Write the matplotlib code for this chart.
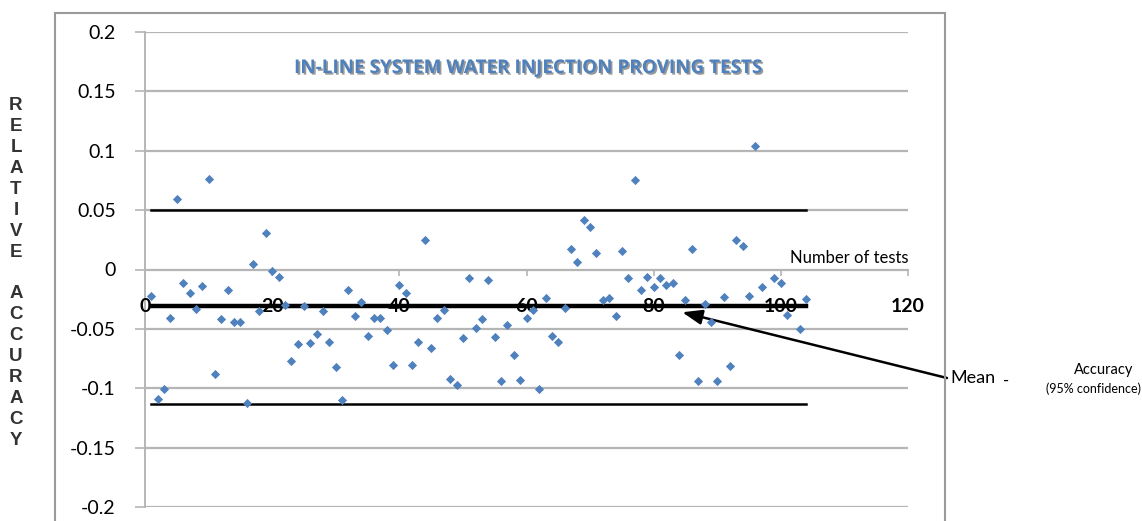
import matplotlib
matplotlib.use("Agg")
import matplotlib.pyplot as plt
import matplotlib.patheffects as pe
import matplotlib.transforms as mtransforms
from matplotlib.patches import Rectangle

# ---- data ----
test_no = [1, 2, 3, 4, 5, 6, 7, 8, 9, 10, 11, 12, 13, 14, 15, 16, 17, 18, 19, 20,
           21, 22, 23, 24, 25, 26, 27, 28, 29, 30, 31, 32, 33, 34, 35, 36, 37, 38, 39, 40,
           41, 42, 43, 44, 45, 46, 47, 48, 49, 50, 51, 52, 53, 54, 55, 56, 57, 58, 59, 60,
           61, 62, 63, 64, 65, 66, 67, 68, 69, 70, 71, 72, 73, 74, 75, 76, 77, 78, 79, 80,
           81, 82, 83, 84, 85, 86, 87, 88, 89, 90, 91, 92, 93, 94, 95, 96, 97, 99, 100,
           101, 103, 104]
rel_acc = [-0.022, -0.109, -0.101, -0.041, 0.059, -0.011, -0.020, -0.033, -0.014, 0.076,
           -0.088, -0.042, -0.017, -0.044, -0.044, -0.112, 0.005, -0.035, 0.031, -0.001,
           -0.006, -0.030, -0.077, -0.063, -0.031, -0.062, -0.054, -0.035, -0.061, -0.082,
           -0.110, -0.017, -0.039, -0.027, -0.056, -0.041, -0.041, -0.051, -0.080, -0.013,
           -0.020, -0.080, -0.061, 0.025, -0.066, -0.041, -0.034, -0.092, -0.097, -0.058,
           -0.007, -0.049, -0.042, -0.009, -0.057, -0.094, -0.047, -0.072, -0.093, -0.041,
           -0.034, -0.101, -0.024, -0.056, -0.061, -0.032, 0.017, 0.006, 0.042, 0.036,
           0.014, -0.026, -0.024, -0.039, 0.016, -0.007, 0.075, -0.017, -0.006, -0.015,
           -0.007, -0.013, -0.011, -0.072, -0.026, 0.017, -0.094, -0.029, -0.044, -0.094,
           -0.023, -0.081, 0.025, 0.020, -0.022, 0.104, -0.015, -0.007, -0.011,
           -0.038, -0.050, -0.025]
mean_val = -0.031
upper_val = 0.05
lower_val = -0.113
line_span = [1, 104]
x_ticks = [0, 20, 40, 60, 80, 100, 120]
y_ticks = [0.2, 0.15, 0.1, 0.05, 0, -0.05, -0.1, -0.15, -0.2]
y_tick_labels = ["0.2", "0.15", "0.1", "0.05", "0", "-0.05", "-0.1", "-0.15", "-0.2"]
title = "IN-LINE SYSTEM WATER INJECTION PROVING TESTS"
ylabel_words = ["RELATIVE", "ACCURACY"]

W, H = 1142, 521
fig = plt.figure(figsize=(W / 100, H / 100), dpi=100)
ax = fig.add_axes([145 / W, (H - 507) / H, 763 / W, 475 / H])
ax.set_xlim(0, 120)
ax.set_ylim(-0.2, 0.2)

grid_c = "#b5b5b5"
for yv in y_ticks:
    ax.axhline(yv, color=grid_c, lw=1.6, zorder=1)

for s in ["top", "right"]:
    ax.spines[s].set_visible(False)
ax.spines["left"].set_color(grid_c)
ax.spines["left"].set_linewidth(1.4)
ax.spines["bottom"].set_position(("data", 0))
ax.spines["bottom"].set_color(grid_c)
ax.spines["bottom"].set_linewidth(1.4)

ax.set_yticks(y_ticks)
ax.set_yticklabels(y_tick_labels, fontsize=14, family=["Lato", "DejaVu Sans"])
ax.tick_params(axis="y", length=7, width=1.2, color=grid_c, pad=14)
ax.set_xticks(x_ticks)
ax.set_xticklabels([])
ax.tick_params(axis="x", length=4, width=1.2, color=grid_c, direction="out")

# reference lines
ax.plot(line_span, [upper_val, upper_val], color="black", lw=1.8, zorder=2)
ax.plot(line_span, [lower_val, lower_val], color="black", lw=1.8, zorder=2)
ax.plot(line_span, [mean_val, mean_val], color="black", lw=3.2, zorder=2)

# x tick labels placed at mean line level
for xv in x_ticks:
    ax.text(xv, mean_val, str(xv), ha="center", va="center", fontsize=14,
            fontweight="bold", family=["Lato", "DejaVu Sans"], color="black",
            zorder=3, clip_on=False)

ax.scatter(test_no, rel_acc, marker="D", s=22, color="#4F81BD", zorder=4,
           linewidths=0)

blend = mtransforms.blended_transform_factory(ax.transAxes, ax.transData)
ax.text(1.0, 0.003, "Number of tests", transform=blend, ha="right",
        va="bottom", fontsize=12, family=["Lato", "DejaVu Sans"])

# title
fig.text(529 / W, (H - 68) / H, title, ha="center", va="center", fontsize=13.6,
         fontweight="bold", color="#4F81BD",
         family=["Open Sans", "DejaVu Sans"],
         path_effects=[pe.withSimplePatchShadow(offset=(1.2, -1.2),
                                                shadow_rgbFace="#555555",
                                                alpha=0.6)])

# vertical stacked y label
letters = list(ylabel_words[0]) + [" "] + list(ylabel_words[1])
fig.text(16 / W, (H - 273) / H, "\n".join(letters), ha="center", va="center",
         fontsize=13.5, fontweight="bold", color="#333333", linespacing=1.3,
         family=["Liberation Sans", "DejaVu Sans"])

# outer frame
fig.patches.append(Rectangle((55 / W, -0.05), (945 - 55) / W, (H - 13) / H + 0.05,
                             transform=fig.transFigure, fill=False,
                             edgecolor="#9a9a9a", lw=1.5))

# annotation
ax.annotate("", xy=(84.5, -0.036), xycoords="data",
            xytext=(947 / W, (H - 378) / H), textcoords="figure fraction",
            arrowprops=dict(arrowstyle="-|>,head_length=1.2,head_width=0.45",
                            color="black", lw=1.8, shrinkA=0, shrinkB=0),
            annotation_clip=False)
fig.text(950 / W, (H - 378) / H, "Mean", ha="left", va="center", fontsize=13,
         family=["Lato", "DejaVu Sans"])
fig.text(1006 / W, (H - 381) / H, "-", ha="center", va="center", fontsize=12,
         family=["Lato", "DejaVu Sans"])
fig.text(1104 / W, (H - 370) / H, "Accuracy", ha="center", va="center",
         fontsize=10.5, family=["Lato", "DejaVu Sans"])
fig.text(1093 / W, (H - 389) / H, "(95% confidence)", ha="center", va="center",
         fontsize=9, family=["Lato", "DejaVu Sans"])

fig.savefig("out.png", dpi=100)
